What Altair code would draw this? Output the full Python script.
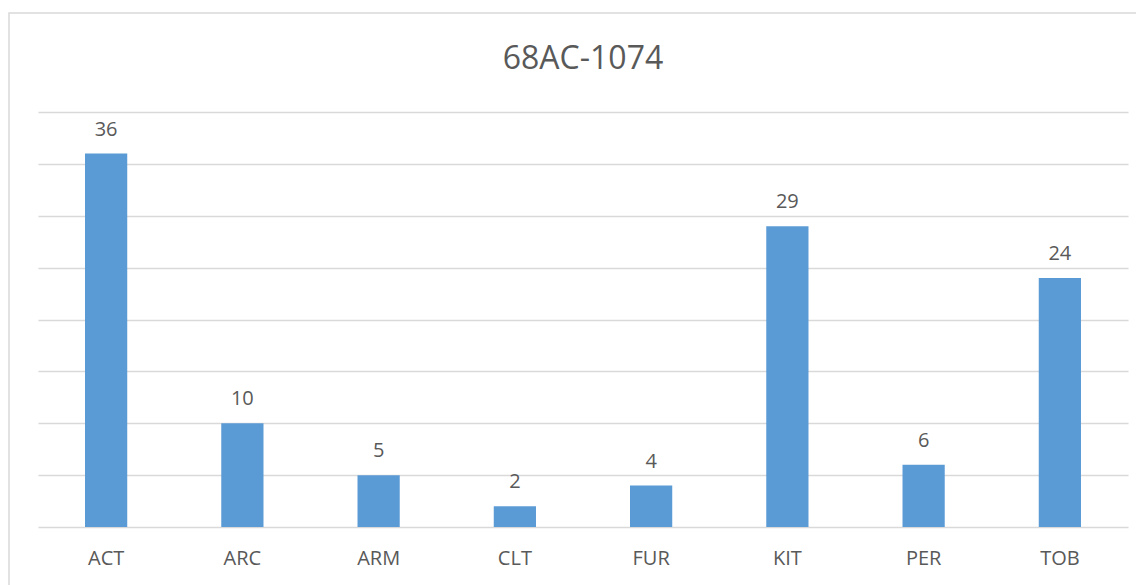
import altair as alt
import pandas as pd

categories = ["ACT", "ARC", "ARM", "CLT", "FUR", "KIT", "PER", "TOB"]
values = [36, 10, 5, 2, 4, 29, 6, 24]

df = pd.DataFrame({"cat": categories, "val": values})

FONT = "Open Sans"
GREY = "#595959"

x_enc = alt.X("cat:N", sort=categories, title=None,
              scale=alt.Scale(paddingInner=0.69, paddingOuter=0.345),
              axis=alt.Axis(domain=False, ticks=False, tickSize=0, labelPadding=21,
                            labelFontSize=20, labelColor=GREY, labelFont=FONT,
                            labelAngle=0, grid=False))
y_enc = alt.Y("val:Q", title=None,
              scale=alt.Scale(domain=[0, 40], nice=False),
              axis=alt.Axis(values=list(range(0, 45, 5)), labels=False, ticks=False,
                            domain=False, grid=True, gridColor="#d9d9d9",
                            gridWidth=1.5))

base = alt.Chart(df)
bars = base.mark_bar(color="#5b9bd5").encode(x=x_enc, y=y_enc)
labels = base.mark_text(font=FONT, fontSize=20, color=GREY, baseline="alphabetic",
                        dy=-18).encode(x=alt.X("cat:N", sort=categories),
                                       y="val:Q", text="val:Q")
border = alt.Chart(pd.DataFrame({"a": [0]})).mark_rect(
    fill=None, stroke="#d9d9d9", strokeWidth=1.5).encode(
    x=alt.value(-29), x2=alt.value(1130), y=alt.value(-99), y2=alt.value(500))

chart = alt.layer(border, bars, labels).properties(
    width=1090, height=415,
    title=alt.TitleParams("68AC-1074", font=FONT, fontSize=32, color=GREY,
                          fontWeight="normal", anchor="middle", offset=-89,
                          baseline="alphabetic", frame="group"),
    autosize=alt.AutoSizeParams(type="none"),
    padding={"left": 30, "top": 104, "right": 8, "bottom": 58},
    background="white",
).configure_view(strokeWidth=0, stroke="transparent")

chart.save("out.html", embed_options={"renderer": "svg", "actions": False})
